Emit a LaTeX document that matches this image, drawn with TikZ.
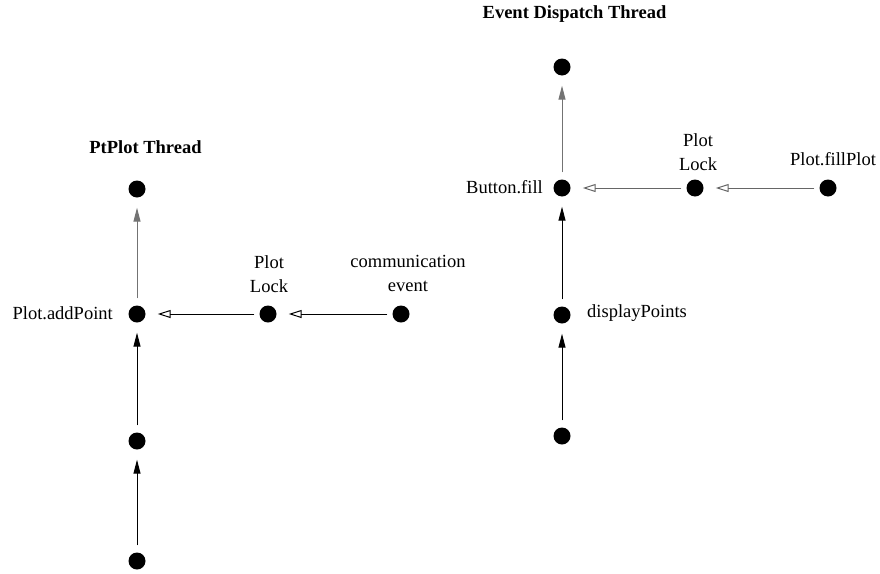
\documentclass[tikz,border=0pt]{standalone}
\usepackage{fontspec}
\setmainfont{Liberation Serif}
\usetikzlibrary{arrows.meta}
\begin{document}
\begin{tikzpicture}[x=1pt,y=-1pt,
  dot/.style={circle,fill=black,inner sep=0pt,minimum size=17pt},
  lbl/.style={font=\fontsize{18.5}{24}\selectfont,align=center,inner sep=0pt},
  ttl/.style={font=\bfseries\fontsize{18.5}{22}\selectfont,inner sep=0pt},
  flow/.style={line width=1pt,-{Triangle[length=14pt,width=7pt]},shorten <=7pt,shorten >=10pt},
  lockarr/.style={line width=1pt,-{Triangle[open,length=13pt,width=8pt]},shorten <=5pt,shorten >=12pt}]
\useasboundingbox (0,0) rectangle (880,573);
% PtPlot thread
\node[ttl] (t1) at (145.5,147) {PtPlot Thread};
\node[dot] (a1) at (137,189) {};
\node[dot] (a2) at (137,314) {};
\node[dot] (a3) at (137,441) {};
\node[dot] (a4) at (137,561) {};
\node[dot] (l1) at (268,314) {};
\node[dot] (c1) at (401,314) {};
\node[lbl,anchor=east] (la2) at (113,313) {Plot.addPoint};
\node[lbl] (ll1) at (269,274) {Plot\\Lock};
\node[lbl] (lc1) at (408,273) {communication\\event};
\draw[flow,draw=black!55] (a2) -- (a1);
\draw[flow] (a3) -- (a2);
\draw[flow] (a4) -- (a3);
\draw[lockarr] (l1) -- (a2);
\draw[lockarr] (c1) -- (l1);
% Event dispatch thread
\node[ttl] (t2) at (574.5,14) {Event Dispatch Thread};
\node[dot] (b1) at (562,67) {};
\node[dot] (b2) at (562,188) {};
\node[dot] (b3) at (562,315) {};
\node[dot] (b4) at (562,436) {};
\node[dot] (l2) at (695,188) {};
\node[dot] (f2) at (828,188) {};
\node[lbl,anchor=east] (lb2) at (543,187) {Button.fill};
\node[lbl,anchor=west] (lb3) at (587,313) {displayPoints};
\node[lbl] (ll2) at (698,152) {Plot\\Lock};
\node[lbl] (lf2) at (833,159) {Plot.fillPlot};
\draw[flow,draw=black!55] (b2) -- (b1);
\draw[flow] (b3) -- (b2);
\draw[flow] (b4) -- (b3);
\draw[lockarr,draw=black!60] (l2) -- (b2);
\draw[lockarr,draw=black!60] (f2) -- (l2);
\end{tikzpicture}
\end{document}
